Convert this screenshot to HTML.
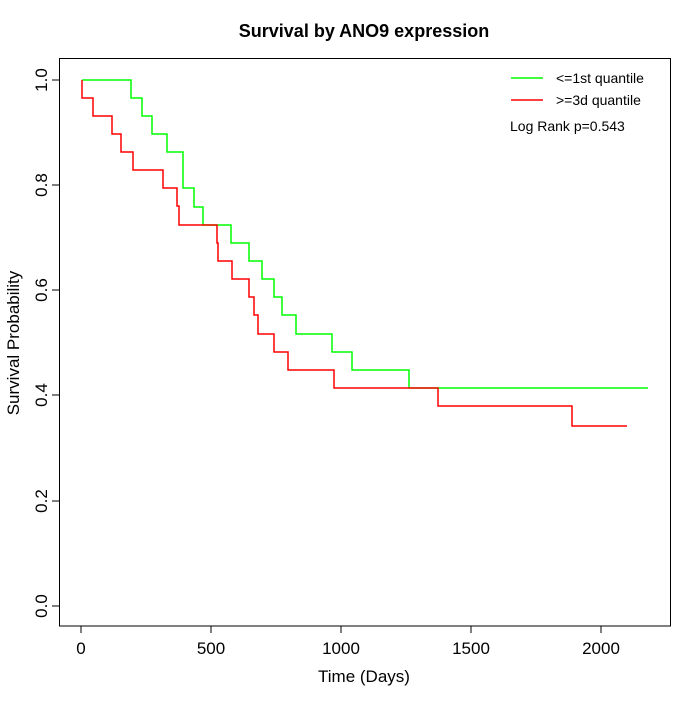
<!DOCTYPE html><html><head><style>body{margin:0;background:#fff}</style></head><body>
<svg width="700" height="700" xmlns="http://www.w3.org/2000/svg" font-family="Liberation Sans, sans-serif">
<rect width="700" height="700" fill="#fff"/>
<text x="364" y="37" text-anchor="middle" font-size="18" font-weight="bold">Survival by ANO9 expression</text>
<rect x="59.5" y="58.5" width="611" height="567.5" fill="none" stroke="#000"/>
<g stroke="#000">
<line x1="81" y1="626" x2="81" y2="633"/><line x1="211" y1="626" x2="211" y2="633"/><line x1="341" y1="626" x2="341" y2="633"/><line x1="471" y1="626" x2="471" y2="633"/><line x1="601" y1="626" x2="601" y2="633"/>
<line x1="52" y1="80" x2="59" y2="80"/><line x1="52" y1="185" x2="59" y2="185"/><line x1="52" y1="290" x2="59" y2="290"/><line x1="52" y1="395" x2="59" y2="395"/><line x1="52" y1="501" x2="59" y2="501"/><line x1="52" y1="606" x2="59" y2="606"/>
</g>
<g font-size="17" text-anchor="middle">
<text x="81" y="654">0</text><text x="211" y="654">500</text><text x="341" y="654">1000</text><text x="471" y="654">1500</text><text x="601" y="654">2000</text>
<text x="364" y="682">Time (Days)</text>
<g transform="rotate(-90)">
<text x="-80" y="47">1.0</text><text x="-185" y="47">0.8</text><text x="-290" y="47">0.6</text><text x="-395" y="47">0.4</text><text x="-501" y="47">0.2</text><text x="-606" y="47">0.0</text>
<text x="-343" y="19">Survival Probability</text>
</g>
</g>
<polyline fill="none" stroke="#00ff00" stroke-width="1.5" points="82,80 131,80 131,98 142,98 142,116 152,116 152,134 167,134 167,152 183,152 183,188 194,188 194,207 203,207 203,225 231,225 231,243 249,243 249,261 262,261 262,279 274,279 274,297 282,297 282,315 296,315 296,334 332,334 332,352 352,352 352,370 409,370 409,388 648,388"/>
<polyline fill="none" stroke="#ff0000" stroke-width="1.5" points="82,80 82,98 93,98 93,116 112,116 112,134 121,134 121,152 133,152 133,170 163,170 163,188 177,188 177,206 179,206 179,225 217,225 217,243 218,243 218,261 232,261 232,279 249,279 249,297 254,297 254,315 258,315 258,334 274,334 274,352 288,352 288,370 334,370 334,388 438,388 438,406 572,406 572,426 627,426"/>
<line x1="511" y1="78" x2="543" y2="78" stroke="#00ff00" stroke-width="1.5"/>
<line x1="511" y1="100" x2="543" y2="100" stroke="#ff0000" stroke-width="1.5"/>
<g font-size="14"><text x="556" y="83">&lt;=1st quantile</text><text x="556" y="105">&gt;=3d quantile</text><text x="510" y="131">Log Rank p=0.543</text></g>
</svg></body></html>
